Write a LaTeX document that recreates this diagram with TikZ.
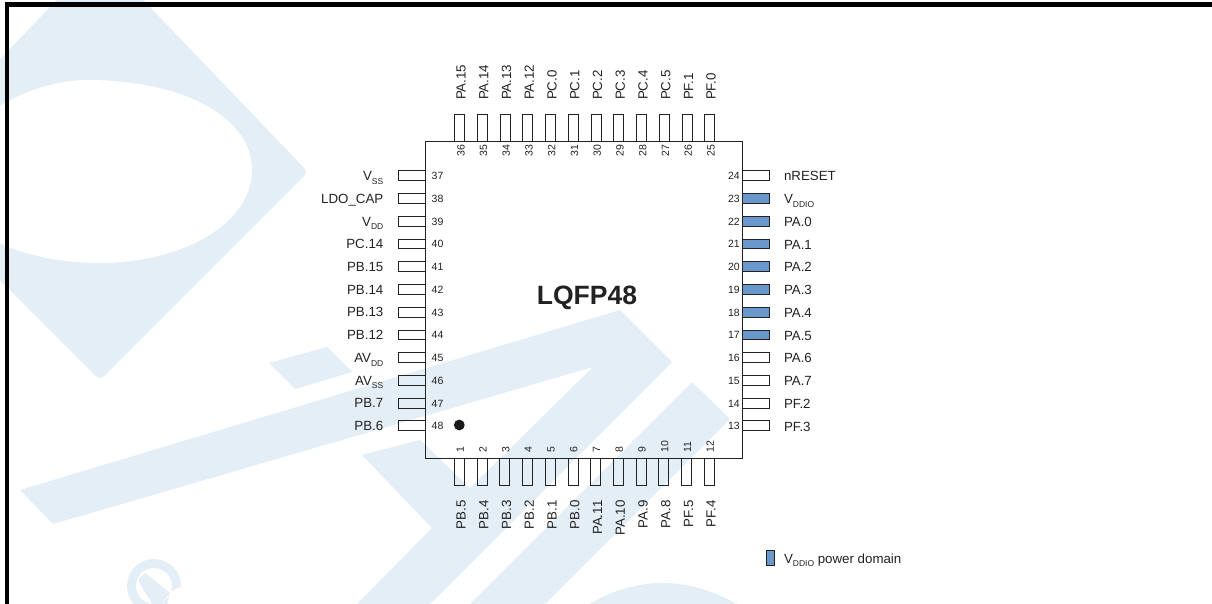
\documentclass[tikz,border=0pt]{standalone}
\usepackage{fontspec}
\setmainfont{Liberation Sans}
\definecolor{wm}{HTML}{E4EEF7}
\definecolor{ink}{HTML}{222222}
\definecolor{power}{HTML}{6A97CC}
\newcommand{\psub}[1]{\raisebox{-0.27em}{\fontsize{8.5}{8.5}\selectfont #1}}
\tikzset{
  pinbox/.style={draw=ink,line width=1pt,rectangle,inner sep=0pt,outer sep=0pt},
  hpin/.style={pinbox,minimum width=27.3pt,minimum height=9.8pt},
  vpin/.style={pinbox,minimum width=10pt,minimum height=27.3pt},
  plain/.style={},
  powered/.style={fill=power},
  chipbox/.style={draw=ink,line width=1pt,rectangle,inner sep=0pt,outer sep=0pt,minimum width=316.6pt,minimum height=316.6pt},
  pinname/.style={text=ink,font=\fontsize{13.3}{13.3}\selectfont,inner sep=0pt,outer sep=0pt},
  pinnum/.style={text=ink,font=\fontsize{10.5}{10.5}\selectfont,inner sep=0pt,outer sep=0pt},
  watermark/.style={fill=wm,draw=none}
}
\begin{document}
\begin{tikzpicture}[x=1pt,y=-1pt]
\useasboundingbox (0,0) rectangle (1212,604);
\fill[white] (0,0) rectangle (1212,604);
\begin{scope}
\clip (0,0) rectangle (1212,604);
% watermark
\fill[watermark,rounded corners=5pt] (100,-45) -- (308,172) -- (100,380) -- (-108,172) -- cycle;
\fill[white] (-10,112) .. controls (30,85) and (70,79) .. (93,80)
  .. controls (190,82) and (252,120) .. (252,170)
  .. controls (252,225) and (180,263) .. (100,263)
  .. controls (60,263) and (20,255) .. (-10,238) -- cycle;
\fill[watermark] (269,363) -- (327,347) -- (352,372) -- (295,389) -- cycle;
\fill[watermark,rounded corners=1pt] (20,490) -- (620,310) -- (672,362) -- (430,604) -- (357,604) -- (432,528)
  -- (362,455) -- (420,440) -- (470,488) -- (593,367) -- (53,524) -- cycle;
\fill[watermark,rounded corners=2pt] (692,382) -- (730,419) -- (545,604) -- (470,604) -- cycle;
\fill[watermark] (590,604) .. controls (612,590) and (640,583) .. (662,583)
  .. controls (690,583) and (715,592) .. (737,604) -- cycle;
\fill[watermark,even odd rule] (154,586) circle (27) (154,586) circle (18);
\fill[white] (170,592) -- (190,582) -- (190,610) -- (166,610) -- cycle;
\fill[watermark] (145,573) -- (170,593) -- (161,604) -- (152,604) -- (138,580) -- cycle;
\end{scope}
% frame
\fill[black] (5,2) rectangle (1212,7);
\fill[black] (5,2) rectangle (9,604);
% pins, left side
\foreach \n/\t [count=\i from 0] in {37/{V\psub{SS}},38/{LDO\_CAP},39/{V\psub{DD}},40/{PC.14},41/{PB.15},42/{PB.14},43/{PB.13},44/{PB.12},45/{AV\psub{DD}},46/{AV\psub{SS}},47/{PB.7},48/{PB.6}}{
  \node[hpin] (pin\n) at (412.1,{175.8+\i*22.73}) {};
  \node[pinname,anchor=base east] (name\n) at (383.3,{180.6+\i*22.73}) {\t};
  \node[pinnum,anchor=base west] (num\n) at (431.7,{179.8+\i*22.73}) {\n};
}
% pins, right side
\foreach \n/\t/\s [count=\i from 0] in {24/{nRESET}/plain,23/{V\psub{DDIO}}/powered,22/{PA.0}/powered,21/{PA.1}/powered,20/{PA.2}/powered,19/{PA.3}/powered,18/{PA.4}/powered,17/{PA.5}/powered,16/{PA.6}/plain,15/{PA.7}/plain,14/{PF.2}/plain,13/{PF.3}/plain}{
  \node[hpin,\s] (pin\n) at (755.9,{175.8+\i*22.73}) {};
  \node[pinname,anchor=base west] (name\n) at (784,{181+\i*22.73}) {\t};
  \node[pinnum,anchor=base east] (num\n) at (739.8,{179.8+\i*22.73}) {\n};
}
% pins, top side
\foreach \n/\t [count=\i from 0] in {36/PA.15,35/PA.14,34/PA.13,33/PA.12,32/PC.0,31/PC.1,30/PC.2,29/PC.3,28/PC.4,27/PC.5,26/PF.1,25/PF.0}{
  \node[vpin] (pin\n) at ({459.7+\i*22.73},128.35) {};
  \node[pinname,rotate=90,anchor=base west] (name\n) at ({465.7+\i*22.73},100) {\t};
  \node[pinnum,rotate=90,anchor=base west] (num\n) at ({464.5+\i*22.73},156.7) {\n};
}
% pins, bottom side
\foreach \n/\t [count=\i from 0] in {1/PB.5,2/PB.4,3/PB.3,4/PB.2,5/PB.1,6/PB.0,7/PA.11,8/PA.10,9/PA.9,10/PA.8,11/PF.5,12/PF.4}{
  \node[vpin] (pin\n) at ({459.4+\i*22.73},471.65) {};
  \node[pinname,rotate=90,anchor=base east] (name\n) at ({465.7+\i*22.73},500.5) {\t};
  \node[pinnum,rotate=90,anchor=base west] (num\n) at ({463.8+\i*22.73},452.5) {\n};
}
% package
\node[chipbox] (chip) at (584,300) {};
\node[text=ink,font=\fontsize{26.5}{26.5}\selectfont\bfseries,inner sep=0pt] (title) at (587,298) {LQFP48};
\node[circle,fill=black!90,draw=none,minimum size=10.8pt,inner sep=0pt] (dot) at (459.3,425) {};
% legend
\node[pinbox,powered,minimum width=7.4pt,minimum height=15.4pt] (legendbox) at (770.4,557.7) {};
\node[pinname,anchor=base west] (legendtext) at (784,563.2) {V\psub{DDIO} power domain};
\end{tikzpicture}
\end{document}
